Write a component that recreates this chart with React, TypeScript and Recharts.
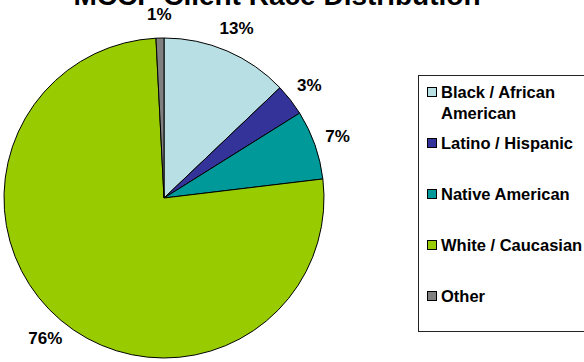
import { Legend, Pie, PieChart, Cell } from "recharts";

const categories = [
  "Black / African American",
  "Latino / Hispanic",
  "Native American",
  "White / Caucasian",
  "Other",
];
const shares = [12.9, 3.2, 7.0, 76.1, 0.8];
const colors = ["#B8E0E4", "#333399", "#009999", "#99CC00", "#808080"];

const chartData = categories.map((name, i) => ({ name, value: shares[i] }));

const FONT = "Arial, 'Liberation Sans', sans-serif";
const RAD = Math.PI / 180;

const renderLabel = (props: any) => {
  const { cx, cy, midAngle, outerRadius, percent } = props;
  const r = outerRadius + 24;
  const x = cx + r * Math.cos(-midAngle * RAD);
  const y = cy + r * Math.sin(-midAngle * RAD);
  return (
    <text
      x={x}
      y={y}
      textAnchor="middle"
      dominantBaseline="central"
      fontFamily={FONT}
      fontWeight="bold"
      fontSize={17}
      fill="#000"
    >
      {`${Math.round(percent * 100)}%`}
    </text>
  );
};

const LegendBox = () => (
  <div
    style={{
      border: "1px solid #222",
      width: 180,
      height: 257,
      boxSizing: "border-box",
      paddingTop: 6,
      fontFamily: FONT,
      fontWeight: "bold",
      fontSize: 16.5,
      lineHeight: "21px",
      color: "#000",
    }}
  >
    {categories.map((name, i) => (
      <div key={name} style={{ display: "flex", height: 51 }}>
        <div
          style={{
            width: 10,
            height: 10,
            marginLeft: 8,
            marginTop: 5,
            marginRight: 4,
            background: colors[i],
            border: "1px solid #000",
            flex: "none",
            boxSizing: "border-box",
          }}
        />
        <div style={{ width: 148 }}>{name}</div>
      </div>
    ))}
  </div>
);

export default function App() {
  return (
    <div style={{ position: "relative", width: 584, height: 362, overflow: "hidden", background: "#fff" }}>
      <style>{`body{margin:0}`}</style>
      <PieChart width={584} height={362} margin={{ top: 0, right: 0, bottom: 0, left: 0 }}>
        <Pie
          data={chartData}
          dataKey="value"
          nameKey="name"
          cx={164}
          cy={198}
          outerRadius={160}
          startAngle={90}
          endAngle={-270}
          stroke="#000"
          strokeWidth={1}
          label={renderLabel}
          labelLine={false}
          isAnimationActive={false}
        >
          {chartData.map((_, index) => (
            <Cell key={`cell-${index}`} fill={colors[index]} />
          ))}
        </Pie>
        <Legend
          content={() => <LegendBox />}
          wrapperStyle={{ position: "absolute", left: 418, top: 75, width: 180, bottom: "auto", right: "auto" }}
        />
      </PieChart>
      <svg width={584} height={362} style={{ position: "absolute", left: 0, top: 0, pointerEvents: "none" }}>
        <text x={277} y={5} textAnchor="middle" fontFamily={FONT} fontWeight="bold" fontSize={28} fill="#000">
          MCCP Client Race Distribution
        </text>
      </svg>
    </div>
  );
}
